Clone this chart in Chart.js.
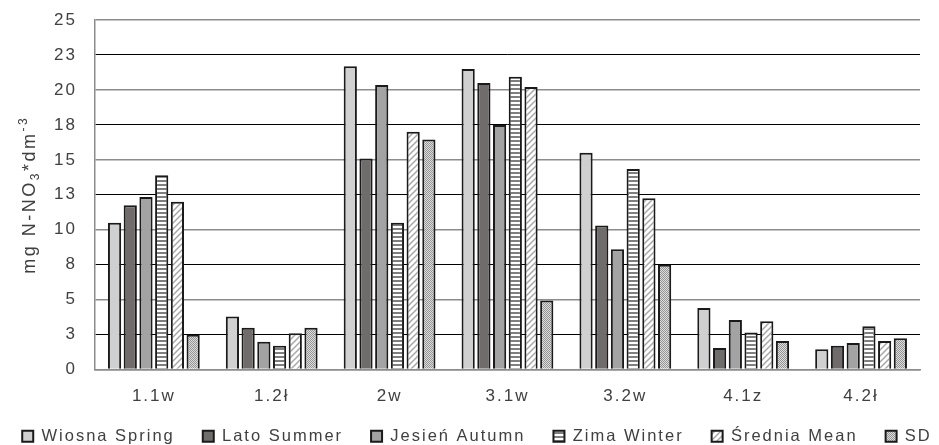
<!DOCTYPE html>
<html>
<head>
<meta charset="utf-8">
<script src="https://cdn.jsdelivr.net/npm/chart.js@4/dist/chart.umd.min.js"></script>
<style>
  html, body { margin: 0; padding: 0; background: #fff; }
  #wrap { width: 939px; height: 445px; position: relative; }
</style>
</head>
<body>
<div id="wrap"><canvas id="wykres"></canvas></div>
<script>
// dane
const kategorie = ['1.1w', '1.2ł', '2w', '3.1w', '3.2w', '4.1z', '4.2ł'];
const wiosna  = [10.5, 3.8, 21.7, 21.5, 15.5, 4.4, 1.45];
const lato    = [11.75, 3.0, 15.1, 20.5, 10.3, 1.55, 1.7];
const jesien  = [12.35, 2.0, 20.35, 17.5, 8.6, 3.55, 1.9];
const zima    = [13.9, 1.7, 10.5, 20.95, 14.35, 2.65, 3.1];
const srednia = [12.0, 2.6, 17.0, 20.2, 12.25, 3.45, 2.05];
const sd      = [2.5, 3.0, 16.45, 4.95, 7.5, 2.05, 2.25];

// tytuł osi Y: [tekst, rozmiar czcionki, przesunięcie linii bazowej]
const tytulY = [
    ['mg N-NO', 18, 0],
    ['3', 12, 4],
    ['*dm', 18, 0],
    ['-3', 12, -8]
];

// wzory wypełnień
function wzor(w, h, rysuj) {
    const c = document.createElement('canvas');
    c.width = w; c.height = h;
    const g = c.getContext('2d');
    rysuj(g);
    return g.createPattern(c, 'repeat');
}

const paski = wzor(4, 4, g => {
    g.fillStyle = '#ffffff'; g.fillRect(0, 0, 4, 4);
    g.fillStyle = '#7f7f7f'; g.fillRect(0, 0, 4, 2);
});

const skos = wzor(6, 6, g => {
    g.fillStyle = '#ffffff'; g.fillRect(0, 0, 6, 6);
    g.strokeStyle = '#a8a8a8'; g.lineWidth = 1.5;
    g.beginPath();
    g.moveTo(-1, 7); g.lineTo(7, -1);
    g.moveTo(-4, 4); g.lineTo(4, -4);
    g.moveTo(2, 10); g.lineTo(10, 2);
    g.stroke();
});

const kropki = wzor(2, 2, g => {
    g.fillStyle = '#dcdcdc'; g.fillRect(0, 0, 2, 2);
    g.fillStyle = '#959595'; g.fillRect(0, 0, 1, 1); g.fillRect(1, 1, 1, 1);
});

const obramowanie = '#1a1a1a';
const czcionka = '"Liberation Sans", Arial, sans-serif';

function seria(label, data, tlo) {
    return {
        label: label,
        data: data,
        backgroundColor: tlo,
        borderColor: obramowanie,
        borderWidth: 2,
        categoryPercentage: 0.8,
        barPercentage: 0.84
    };
}

// szerszy odstęp liter jak w oryginale
const odstepLiter = {
    id: 'odstepLiter',
    beforeUpdate(chart) { chart.ctx.letterSpacing = '2px'; },
    beforeDraw(chart) { chart.ctx.letterSpacing = '2px'; }
};

// legenda w jednym wierszu, na całą szerokość, niżej
const legendaNizej = {
    id: 'legendaNizej',
    afterInit(chart) {
        const leg = chart.legend;
        const fit = leg.fit;
        leg.fit = function () {
            const mw = this.maxWidth;
            this.maxWidth = 5000;
            fit.call(this);
            this.maxWidth = mw;
            this.width = mw;
            this.height = 31;
        };
    },
    afterLayout(chart) {
        const leg = chart.legend;
        leg.left = -45;
        leg.right = chart.width + 60;
        leg.width = leg.right - leg.left;
        leg.top -= 12;
        leg.bottom = chart.height;
        leg.height = leg.bottom - leg.top;
    }
};

// tytuł osi Y z indeksem dolnym i górnym
const tytulOsi = {
    id: 'tytulOsi',
    afterDraw(chart) {
        const ctx = chart.ctx;
        const a = chart.chartArea;
        ctx.save();
        ctx.letterSpacing = '2.5px';
        ctx.fillStyle = '#404040';
        ctx.textAlign = 'left';
        ctx.textBaseline = 'alphabetic';
        let suma = 0;
        const szer = tytulY.map(([t, r]) => {
            ctx.font = r + 'px ' + czcionka;
            const w = ctx.measureText(t).width;
            suma += w;
            return w;
        });
        ctx.translate(28, (a.top + a.bottom) / 2);
        ctx.rotate(-Math.PI / 2);
        let x = -suma / 2;
        tytulY.forEach(([t, r, dy], i) => {
            ctx.font = r + 'px ' + czcionka;
            ctx.fillText(t, x, 6.5 + dy);
            x += szer[i];
        });
        ctx.restore();
    }
};

Chart.defaults.font.family = czcionka;
Chart.defaults.color = '#404040';

new Chart(document.getElementById('wykres').getContext('2d'), {
    type: 'bar',
    data: {
        labels: kategorie,
        datasets: [
            seria('Wiosna Spring', wiosna, '#d0d0d0'),
            seria('Lato Summer', lato, '#716c6c'),
            seria('Jesień Autumn', jesien, '#a3a3a3'),
            seria('Zima Winter', zima, paski),
            seria('Średnia Mean', srednia, skos),
            seria('SD', sd, kropki)
        ]
    },
    options: {
        responsive: true,
        maintainAspectRatio: false,
        animation: false,
        layout: { padding: { left: 45, right: 19, top: 20, bottom: 2 } },
        plugins: {
            legend: {
                position: 'bottom',
                labels: {
                    color: '#404040',
                    font: { size: 16.5 },
                    boxWidth: 11,
                    boxHeight: 11,
                    padding: 28
                }
            },
            tooltip: { enabled: false }
        },
        scales: {
            x: {
                grid: { display: false, drawTicks: true, tickLength: 12 },
                border: { color: '#8c8c8c', width: 1.5 },
                ticks: { color: '#404040', font: { size: 17 }, padding: 5 }
            },
            y: {
                min: 0,
                max: 25,
                ticks: {
                    stepSize: 2.5,
                    color: '#404040',
                    font: { size: 17 },
                    padding: 9,
                    callback: v => Math.round(v)
                },
                grid: {
                    drawTicks: true,
                    tickLength: 9,
                    tickColor: 'rgba(0,0,0,0)',
                    lineWidth: c => (c.index % 2 === 0 ? 1.5 : 1),
                    color: c => (c.index % 2 === 0 ? '#8c8c8c' : '#000000')
                },
                border: { color: '#8c8c8c', width: 1.5 }
            }
        }
    },
    plugins: [odstepLiter, legendaNizej, tytulOsi]
});
</script>
</body>
</html>
